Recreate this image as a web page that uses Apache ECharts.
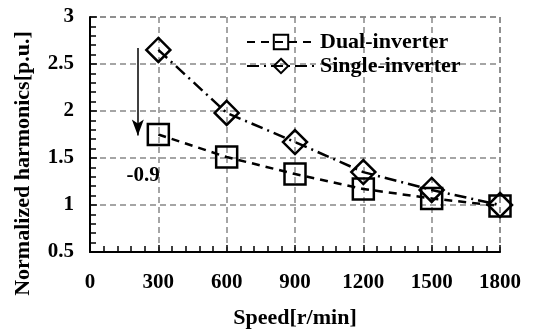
<!DOCTYPE html>
<html>
<head>
<meta charset="utf-8">
<script src="https://cdn.jsdelivr.net/npm/echarts@6/dist/echarts.min.js"></script>
<style>
  html, body { margin: 0; padding: 0; background: #fff; }
  #chart { width: 535px; height: 329px; }
</style>
</head>
<body>
<div id="chart"></div>
<script>
// speed points (r/min)
var speeds = [300, 600, 900, 1200, 1500, 1800];
var dualInverter = [1.75, 1.51, 1.33, 1.17, 1.07, 0.99];
var singleInverter = [2.65, 1.98, 1.67, 1.35, 1.16, 1.0];

// arrow from single to dual at low speed
var arrowX = 210;
var arrowFrom = 2.67;
var arrowTo = 1.74;
var arrowLabel = '-0.9';
var arrowLabelAt = [233, 1.31];

var FONT = 'Liberation Serif';

function pairs(xs, ys) {
  var out = [];
  for (var i = 0; i < xs.length; i++) {
    out.push([xs[i], ys[i]]);
  }
  return out;
}

var chart = echarts.init(document.getElementById('chart'));

var option = {
  animation: false,
  backgroundColor: '#fff',
  textStyle: { fontFamily: FONT },
  grid: {
    left: 90,
    right: 35,
    top: 17,
    bottom: 77,
    containLabel: false,
    outerBoundsMode: 'none'
  },
  legend: {
    orient: 'vertical',
    left: 246,
    top: 31,
    padding: 0,
    itemGap: 2,
    itemWidth: 68,
    itemHeight: 18,
    textStyle: { fontFamily: FONT, fontWeight: 'bold', fontSize: 22, color: '#000' },
    data: ['Dual-inverter', 'Single-inverter']
  },
  xAxis: {
    type: 'value',
    min: 0,
    max: 1800,
    interval: 300,
    name: 'Speed[r/min]',
    nameLocation: 'middle',
    nameGap: 55,
    nameTextStyle: { fontFamily: FONT, fontWeight: 'bold', fontSize: 22, color: '#000' },
    axisLine: { lineStyle: { color: '#000', width: 2 } },
    axisTick: { inside: true, length: 7, lineStyle: { color: '#000', width: 1.5 } },
    minorTick: { show: true, splitNumber: 5, length: 6, lineStyle: { color: '#000', width: 1.5 } },
    axisLabel: {
      fontFamily: FONT, fontWeight: 'bold', fontSize: 21, color: '#000', margin: 20,
      formatter: function (v) { return String(v); }
    },
    splitLine: { show: true, lineStyle: { color: '#888', type: [6, 4], width: 1.5 } }
  },
  yAxis: {
    type: 'value',
    min: 0.5,
    max: 3,
    interval: 0.5,
    name: 'Normalized harmonics[p.u.]',
    nameLocation: 'middle',
    nameGap: 56,
    nameTextStyle: {
      fontFamily: FONT, fontWeight: 'bold', fontSize: 22, color: '#000',
      padding: [0, 58, 0, 0]
    },
    axisLine: { show: true, lineStyle: { color: '#000', width: 2 } },
    axisTick: { show: true, inside: true, length: 7, lineStyle: { color: '#000', width: 1.5 } },
    minorTick: { show: true, splitNumber: 5, length: 6, lineStyle: { color: '#000', width: 1.5 } },
    axisLabel: { fontFamily: FONT, fontWeight: 'bold', fontSize: 21, color: '#000', margin: 16 },
    splitLine: { show: true, lineStyle: { color: '#888', type: [6, 4], width: 1.5 } }
  },
  graphic: [{
    type: 'rect',
    shape: { x: 90, y: 17, width: 410, height: 235 },
    style: { fill: 'none', stroke: '#888', lineWidth: 1.5, lineDash: [6, 4] },
    silent: true,
    z: 0
  }],
  series: [
    {
      name: 'Dual-inverter',
      type: 'line',
      data: pairs(speeds, dualInverter),
      symbol: 'rect',
      symbolSize: 21,
      z: 3,
      lineStyle: { color: '#000', width: 2.5, type: [8, 6] },
      itemStyle: { color: 'rgba(255,255,255,0)', borderColor: '#000', borderWidth: 2.5 },
      markLine: {
        silent: true,
        symbol: ['none', 'arrow'],
        symbolSize: [9, 16],
        label: { show: false },
        lineStyle: { color: '#000', width: 1.5, type: 'solid' },
        data: [[{ coord: [arrowX, arrowFrom] }, { coord: [arrowX, arrowTo] }]]
      },
      markPoint: {
        silent: true,
        symbol: 'circle',
        symbolSize: 0,
        label: {
          show: true,
          formatter: arrowLabel,
          fontFamily: FONT,
          fontWeight: 'bold',
          fontSize: 21,
          color: '#000'
        },
        data: [{ coord: arrowLabelAt }]
      }
    },
    {
      name: 'Single-inverter',
      type: 'line',
      data: pairs(speeds, singleInverter),
      symbol: 'diamond',
      symbolSize: [24, 24],
      z: 4,
      lineStyle: { color: '#000', width: 2.5, type: [12, 5, 2, 5] },
      itemStyle: { color: 'rgba(255,255,255,0)', borderColor: '#000', borderWidth: 2.5 }
    }
  ]
};

chart.setOption(option);
</script>
</body>
</html>
